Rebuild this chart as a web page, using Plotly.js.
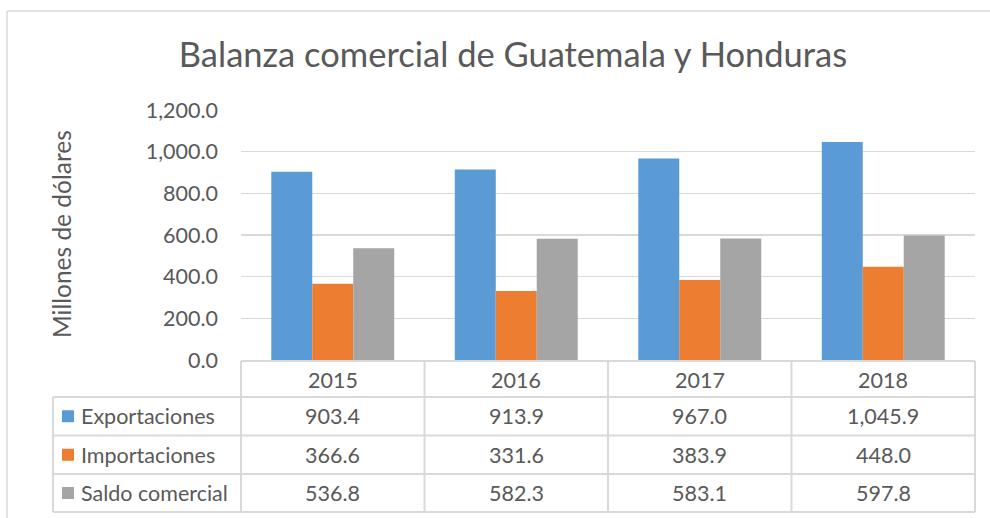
<!DOCTYPE html>
<html><head><meta charset="utf-8">
<script src="https://cdn.plot.ly/plotly-3.0.1.min.js"></script>
<style>html,body{margin:0;padding:0;background:#fff}#chart{width:990px;height:518px}</style>
</head><body><div id="chart"></div>
<script>
const titleText = "Balanza comercial de Guatemala y Honduras";
const yTitle = "Millones de dólares";
const years = ["2015", "2016", "2017", "2018"];
const seriesNames = ["Exportaciones", "Importaciones", "Saldo comercial"];
const exportaciones = [903.4, 913.9, 967.0, 1045.9];
const importaciones = [366.6, 331.6, 383.9, 448.0];
const saldoComercial = [536.8, 582.3, 583.1, 597.8];
const seriesValues = [exportaciones, importaciones, saldoComercial];
const colors = ["#5B9BD5", "#ED7D31", "#A5A5A5"];

const FONT = "Lato, Carlito, Calibri, sans-serif";
const TXT = "#595959";
const LINE = "#D9D9D9";

const W = 990, H = 518, ML = 241, MR = 15, MT = 110, MB = 158;
const PW = W - ML - MR, PH = H - MT - MB;
const px2x = p => (p - ML) / PW;
const py2y = p => (H - MB - p) / PH;

const fmt = v => v.toLocaleString('en-US', {minimumFractionDigits: 1, maximumFractionDigits: 1});

const traces = seriesNames.map((n, i) => ({
  type: 'bar', name: n, x: years, y: seriesValues[i],
  marker: {color: colors[i], line: {width: 0}}, hoverinfo: 'none'
}));

const rowEdges = [361, 397, 435.5, 474, 512];
const leftColX = 53;
const shapes = [];
const annotations = [];
const lineStyle = {color: LINE, width: 2};
const nCat = years.length;
const TS = 21.5;

shapes.push({type:'line', xref:'paper', yref:'paper', x0:px2x(7), x1:px2x(995), y0:py2y(11), y1:py2y(11), line:{color:LINE, width:1.5}});
shapes.push({type:'line', xref:'paper', yref:'paper', x0:px2x(7), x1:px2x(7), y0:py2y(11), y1:py2y(530), line:{color:LINE, width:1.5}});

shapes.push({type:'line', xref:'paper', yref:'paper', x0:0, x1:1, y0:py2y(rowEdges[0]), y1:py2y(rowEdges[0]), line:lineStyle});
for (let r = 1; r < rowEdges.length; r++) {
  shapes.push({type:'line', xref:'paper', yref:'paper', x0:px2x(leftColX), x1:1, y0:py2y(rowEdges[r]), y1:py2y(rowEdges[r]), line:lineStyle});
}
for (let c = 0; c <= nCat; c++) {
  shapes.push({type:'line', xref:'paper', yref:'paper', x0:c/nCat, x1:c/nCat, y0:py2y(rowEdges[0]), y1:py2y(rowEdges[4]), line:lineStyle});
}
shapes.push({type:'line', xref:'paper', yref:'paper', x0:px2x(leftColX), x1:px2x(leftColX), y0:py2y(rowEdges[1]), y1:py2y(rowEdges[4]), line:lineStyle});

years.forEach((yr, c) => {
  annotations.push({xref:'paper', yref:'paper', x:(c+0.5)/nCat, y:py2y((rowEdges[0]+rowEdges[1])/2 + 1), text:yr, showarrow:false, xanchor:'center', yanchor:'middle', font:{family:FONT, size:TS, color:TXT}});
});
seriesNames.forEach((n, r) => {
  const yc = (rowEdges[r+1] + rowEdges[r+2]) / 2;
  shapes.push({type:'rect', xref:'paper', yref:'paper', x0:px2x(62), x1:px2x(74), y0:py2y(yc-6), y1:py2y(yc+6), fillcolor:colors[r], line:{width:0}});
  annotations.push({xref:'paper', yref:'paper', x:px2x(79), y:py2y(yc), text:n, showarrow:false, xanchor:'left', yanchor:'middle', font:{family:FONT, size:TS, color:TXT}});
  seriesValues[r].forEach((v, c) => {
    annotations.push({xref:'paper', yref:'paper', x:(c+0.5)/nCat, y:py2y(yc), text:fmt(v), showarrow:false, xanchor:'center', yanchor:'middle', font:{family:FONT, size:TS, color:TXT}});
  });
});
annotations.push({xref:'paper', yref:'paper', x:px2x(61), y:py2y(234), text:yTitle, textangle:-90, showarrow:false, xanchor:'center', yanchor:'middle', font:{family:FONT, size:24.5, color:TXT}});

const layout = {
  width: W, height: H,
  margin: {l: ML, r: MR, t: MT, b: MB, pad: 0},
  paper_bgcolor: '#fff', plot_bgcolor: '#fff',
  showlegend: false,
  barmode: 'group', bargap: 0.33, bargroupgap: 0,
  title: {text: titleText, font: {family: FONT, size: 34.5, color: TXT}, x: 513/W, xref: 'container', xanchor: 'center', y: 1 - 55/H, yref: 'container', yanchor: 'middle'},
  xaxis: {type: 'category', showticklabels: false, ticks: '', showgrid: false, zeroline: false, showline: false},
  yaxis: {range: [0, 1200], dtick: 200, tickformat: ',.1f', ticks: '', showline: false, zeroline: false,
          gridcolor: LINE, gridwidth: 1.5, ticklabelstandoff: 22,
          tickfont: {family: FONT, size: 21.5, color: TXT}},
  shapes: shapes, annotations: annotations,
  font: {family: FONT, color: TXT}
};

Plotly.newPlot('chart', traces, layout, {staticPlot: true, displayModeBar: false});
</script></body></html>
